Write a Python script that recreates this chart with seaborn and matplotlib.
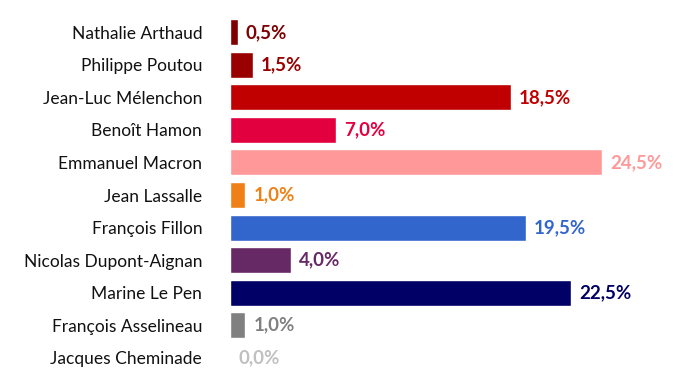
import matplotlib
matplotlib.use("Agg")
import matplotlib.pyplot as plt
import seaborn as sns
import pandas as pd

candidates = ["Nathalie Arthaud", "Philippe Poutou", "Jean-Luc Mélenchon",
              "Benoît Hamon", "Emmanuel Macron", "Jean Lassalle",
              "François Fillon", "Nicolas Dupont-Aignan", "Marine Le Pen",
              "François Asselineau", "Jacques Cheminade"]
scores = [0.5, 1.5, 18.5, 7.0, 24.5, 1.0, 19.5, 4.0, 22.5, 1.0, 0.0]
colors = ["#7F0000", "#990000", "#C00000", "#E2003F", "#FF9999", "#F08015",
          "#3366CC", "#662966", "#000066", "#808080", "#C0C0C0"]

df = pd.DataFrame({"candidate": candidates, "score": scores})
palette = dict(zip(candidates, colors))

sns.set_style("white")
plt.rcParams['font.family'] = ['Lato', 'DejaVu Sans']

W, H = 693, 379
fig = plt.figure(figsize=(W / 100, H / 100), dpi=100)
# axes placed in pixel terms: bars start at x=230, rows from y=16 to y=374
ax = fig.add_axes([230 / W, 1 - 374 / H, 440 / W, 358 / H])

sns.barplot(data=df, x="score", y="candidate", hue="candidate",
            palette=palette, legend=False, orient="h", width=0.8,
            saturation=1, ax=ax)

ax.set_xlim(0, 440 / 15.17)
ax.set_xlabel(None)
ax.set_ylabel(None)
ax.set_xticks([])
ax.tick_params(axis="y", length=0, pad=20, labelsize=12.5, labelcolor="#111111")
for s in ax.spines.values():
    s.set_visible(False)

for i, (v, c) in enumerate(zip(scores, colors)):
    ax.annotate(f"{v:.1f}%".replace(".", ","), xy=(v, i),
                xytext=(6, 0), textcoords="offset points",
                va="center", ha="left", fontsize=13.5,
                fontweight="bold", color=c)

fig.savefig("out.png", dpi=100)
